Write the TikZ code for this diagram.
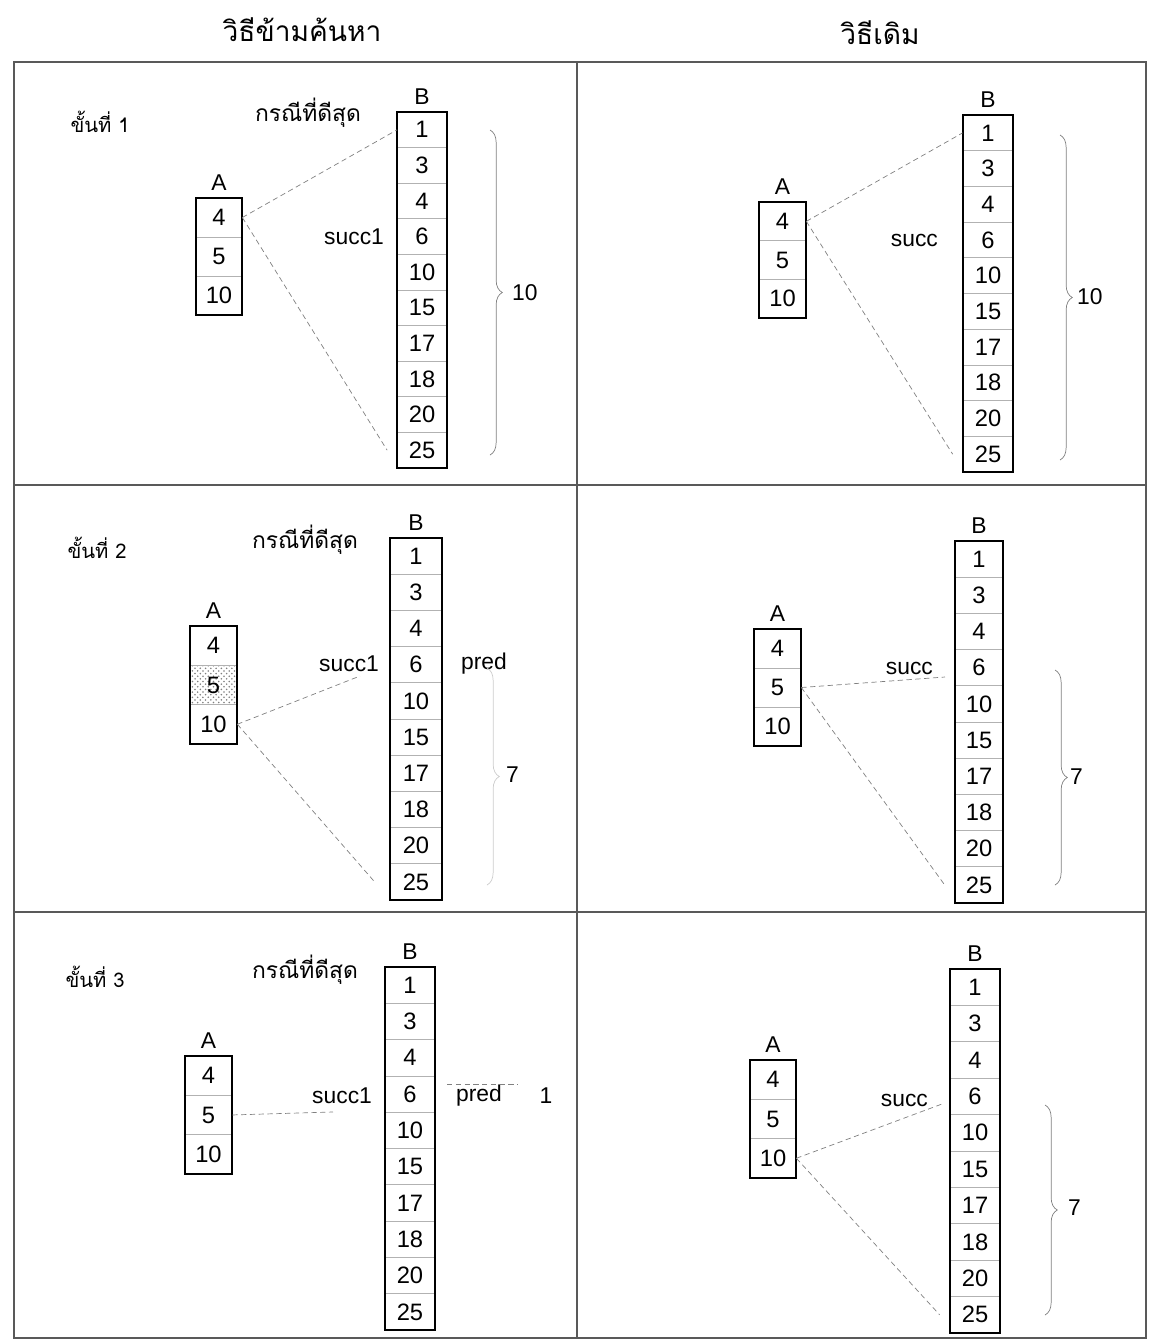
\documentclass[tikz,border=0pt]{standalone}
\usepackage{fontspec}
\setmainfont{Liberation Sans}
\newfontfamily\thaifont[Script=Thai]{Loma}
\usepackage{tikz}
\usetikzlibrary{calc, positioning, patterns, decorations.pathreplacing}

\tikzset{
  cell/.style={draw=gray!60, thin, inner sep=0pt, font=\fontsize{13.5}{15}\selectfont},
  frame/.style={draw=black, line width=1.1pt},
  grid/.style={draw=gray!70!black, line width=1pt},
  link/.style={gray, dash pattern=on 3pt off 2pt, thin},
  grp/.style={gray, thin, decorate, decoration={brace, amplitude=7pt}},
  lbl/.style={font=\fontsize{13}{15}\selectfont, inner sep=1pt},
  thtitle/.style={font=\thaifont\fontsize{16}{18}\selectfont},
  thcase/.style={font=\thaifont\fontsize{13}{15}\selectfont},
  thstep/.style={font=\thaifont\fontsize{11.5}{13}\selectfont},
}

% column of cells: name, x centre, top y, width, cell height, count, values
\newcommand{\arraycol}[7]{%
  \foreach \v [count=\i] in {#7}
    \node[cell, minimum width={#4*0.02cm}, minimum height={#5*0.02cm}]
      (#1-\i) at (#2, {#3+(\i-0.5)*#5}) {\v};
  \draw[frame] (#1-1.north west) rectangle (#1-#6.south east);
}

\begin{document}
\begin{tikzpicture}[x=0.02cm, y=-0.02cm]
  \useasboundingbox (0,0) rectangle (1152,1343);
  % Titres
  \node[thtitle] (t1) at (302,30) {วิธีข้ามค้นหา};
  \node[thtitle] (t2) at (880,33) {วิธีเดิม};
  % Tableau
  \draw[grid] (14,62) rectangle (1146,1338);
  \draw[grid] (577,62) -- (577,1338);
  \draw[grid] (14,485) -- (1146,485);
  \draw[grid] (14,912) -- (1146,912);

  % Etape 1, skip search
  \node[thstep] (s1) at (100,122) {ขั้นที่ 1};
  \node[thcase] (c1) at (308,113) {กรณีที่ดีสุด};
  \arraycol{a1}{219}{198}{46}{39}{3}{4,5,10}
  \arraycol{b1}{422}{112}{49}{35.6}{10}{1,3,4,6,10,15,17,18,20,25}
  \node[lbl, above=3pt of a1-1] (a1t) {A};
  \node[lbl, above=3pt of b1-1] (b1t) {B};
  \node[lbl, anchor=east] (su1) at (386,237) {succ1};
  \draw[link] (a1-1.east) -- (b1-1.west);
  \draw[link] (a1-1.east) -- ([xshift=-0.2cm]b1-10.west);
  \coordinate (g1a) at (490,130);
  \coordinate (g1b) at (490,455);
  \draw[grp] (g1a) -- (g1b);
  \node[lbl, anchor=west] (n1) at (510,293) {10};

  % Etape 1, methode d'origine
  \arraycol{a2}{782.5}{202}{47}{38.7}{3}{4,5,10}
  \arraycol{b2}{988}{115}{50}{35.7}{10}{1,3,4,6,10,15,17,18,20,25}
  \node[lbl, above=3pt of a2-1] (a2t) {A};
  \node[lbl, above=3pt of b2-1] (b2t) {B};
  \node[lbl, anchor=east] (su2) at (940,240) {succ};
  \draw[link] (a2-1.east) -- (b2-1.west);
  \draw[link] (a2-1.east) -- ([xshift=-0.2cm]b2-10.west);
  \coordinate (g2a) at (1060,135);
  \coordinate (g2b) at (1060,460);
  \draw[grp] (g2a) -- (g2b);
  \node[lbl, anchor=west] (n2) at (1075,297) {10};

  % Etape 2, skip search
  \node[thstep] (s2) at (97,548) {ขั้นที่ 2};
  \node[thcase] (c2) at (305,540) {กรณีที่ดีสุด};
  \fill[pattern=crosshatch dots, pattern color=gray] (190,665.3) rectangle (237,704.6);
  \arraycol{a3}{213.5}{626}{47}{39.3}{3}{4,5,10}
  \arraycol{b3}{416}{538}{52}{36.2}{10}{1,3,4,6,10,15,17,18,20,25}
  \node[lbl, above=3pt of a3-1] (a3t) {A};
  \node[lbl, above=3pt of b3-1] (b3t) {B};
  \node[lbl, anchor=east] (su3) at (381,664) {succ1};
  \node[lbl] (pr3) at (484,664) {pred};
  \coordinate (p3s) at (360,676);
  \draw[link] (a3-3.east) -- (p3s);
  \draw[link] (a3-3.east) -- ([xshift=-0.3cm]b3-10.west);
  \coordinate (g3a) at (487,668);
  \coordinate (g3b) at (487,885);
  \draw[grp, gray!40] (g3a) -- (g3b);
  \node[lbl, anchor=west] (n3) at (504,775) {7};

  % Etape 2, methode d'origine
  \arraycol{a4}{777.5}{629}{47}{39}{3}{4,5,10}
  \arraycol{b4}{979}{541}{48}{36.2}{10}{1,3,4,6,10,15,17,18,20,25}
  \node[lbl, above=3pt of a4-1] (a4t) {A};
  \node[lbl, above=3pt of b4-1] (b4t) {B};
  \node[lbl, anchor=east] (su4) at (935,668) {succ};
  \coordinate (p4s) at (945,677);
  \draw[link] (a4-2.east) -- (p4s);
  \draw[link] (a4-2.east) -- ([xshift=-0.2cm]b4-10.west);
  \coordinate (g4a) at (1055,670);
  \coordinate (g4b) at (1055,885);
  \draw[grp] (g4a) -- (g4b);
  \node[lbl, anchor=west] (n4) at (1068,777) {7};

  % Etape 3, skip search
  \node[thstep] (s3) at (95,977) {ขั้นที่ 3};
  \node[thcase] (c3) at (305,970) {กรณีที่ดีสุด};
  \arraycol{a5}{208.5}{1056}{47}{39.3}{3}{4,5,10}
  \arraycol{b5}{410}{967}{50}{36.3}{10}{1,3,4,6,10,15,17,18,20,25}
  \node[lbl, above=3pt of a5-1] (a5t) {A};
  \node[lbl, above=3pt of b5-1] (b5t) {B};
  \node[lbl, anchor=east] (su5) at (374,1096) {succ1};
  \node[lbl] (pr5) at (479,1096) {pred};
  \node[lbl] (n5) at (546,1096) {1};
  \coordinate (p5s) at (333,1112);
  \draw[link] (a5-2.east) -- (p5s);
  \coordinate (p5a) at (447,1084);
  \coordinate (p5b) at (518,1084);
  \draw[link] (p5a) -- (p5b);

  % Etape 3, methode d'origine
  \arraycol{a6}{773}{1060}{46}{39.3}{3}{4,5,10}
  \arraycol{b6}{975}{969}{50}{36.4}{10}{1,3,4,6,10,15,17,18,20,25}
  \node[lbl, above=3pt of a6-1] (a6t) {A};
  \node[lbl, above=3pt of b6-1] (b6t) {B};
  \node[lbl, anchor=east] (su6) at (930,1100) {succ};
  \coordinate (p6s) at (942,1104);
  \draw[link] (a6-3.east) -- (p6s);
  \draw[link] (a6-3.east) -- ([xshift=-0.2cm]b6-10.west);
  \coordinate (g6a) at (1045,1105);
  \coordinate (g6b) at (1045,1315);
  \draw[grp] (g6a) -- (g6b);
  \node[lbl, anchor=west] (n6) at (1066,1208) {7};
\end{tikzpicture}
\end{document}
